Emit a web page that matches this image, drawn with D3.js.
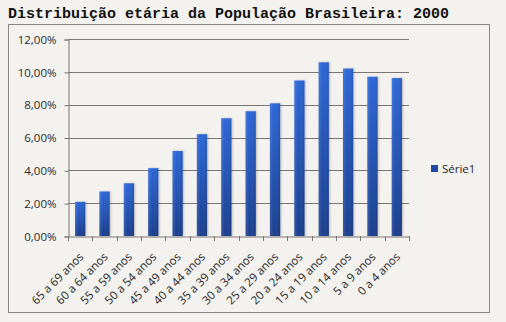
<!DOCTYPE html>
<html>
<head>
<meta charset="utf-8">
<script src="https://cdn.jsdelivr.net/npm/d3@7"></script>
<style>
  html, body { margin: 0; padding: 0; background: #f4f2ef; }
  svg { display: block; }
</style>
</head>
<body>
<svg id="chart" width="506" height="322"></svg>
<script>
// Faixas etárias (da mais velha para a mais nova)
const categories = [
  "65 a 69 anos", "60 a 64 anos", "55 a 59 anos", "50 a 54 anos",
  "45 a 49 anos", "40 a 44 anos", "35 a 39 anos", "30 a 34 anos",
  "25 a 29 anos", "20 a 24 anos", "15 a 19 anos", "10 a 14 anos",
  "5 a 9 anos", "0 a 4 anos"
];
// Participação de cada faixa na população (%)
const values = [2.08, 2.71, 3.21, 4.13, 5.18, 6.20, 7.17, 7.60, 8.08, 9.47, 10.58, 10.20, 9.70, 9.62];
const yTicks = [0, 2, 4, 6, 8, 10, 12];
const seriesName = "Série1";
const title = "Distribuição etária da População Brasileira: 2000";

const labelFont = "'Open Sans', 'Liberation Sans', sans-serif";
const svg = d3.select("#chart");

// Título
svg.append("text")
  .attr("x", 8).attr("y", 18)
  .attr("font-family", "'Liberation Mono', 'DejaVu Sans Mono', monospace")
  .attr("font-weight", "bold")
  .attr("font-size", 15)
  .attr("fill", "#111")
  .text(title);

// Moldura do gráfico
svg.append("rect")
  .attr("x", 8.5).attr("y", 24.5)
  .attr("width", 481).attr("height", 288)
  .attr("fill", "#f4f2ef")
  .attr("stroke", "#8a8684")
  .attr("stroke-width", 1);

const plot = { left: 68, right: 409, top: 39, bottom: 236 };

const x = d3.scaleBand()
  .domain(categories)
  .range([plot.left, plot.right])
  .paddingInner(0.58)
  .paddingOuter(0.29);

const y = d3.scaleLinear()
  .domain([0, 12])
  .range([plot.bottom, plot.top]);

const fmt = v => d3.format(".2f")(v).replace(".", ",") + "%";

// Gradiente das barras
const defs = svg.append("defs");
const grad = defs.append("linearGradient")
  .attr("id", "barGrad")
  .attr("x1", 0).attr("y1", 0).attr("x2", 0).attr("y2", 1);
grad.append("stop").attr("offset", "0%").attr("stop-color", "#2d67d8");
grad.append("stop").attr("offset", "100%").attr("stop-color", "#1a3f8e");

const hgrad = defs.append("linearGradient")
  .attr("id", "barShade")
  .attr("x1", 0).attr("y1", 0).attr("x2", 1).attr("y2", 0);
hgrad.append("stop").attr("offset", "0%").attr("stop-color", "#fff").attr("stop-opacity", 0.12);
hgrad.append("stop").attr("offset", "40%").attr("stop-color", "#fff").attr("stop-opacity", 0);
hgrad.append("stop").attr("offset", "100%").attr("stop-color", "#000").attr("stop-opacity", 0.12);

const shadow = defs.append("filter").attr("id", "shadow")
  .attr("x", "-50%").attr("y", "-10%").attr("width", "200%").attr("height", "120%");
shadow.append("feGaussianBlur").attr("in", "SourceAlpha").attr("stdDeviation", 1.2).attr("result", "b");
shadow.append("feOffset").attr("in", "b").attr("dx", 1).attr("dy", 0).attr("result", "o");
shadow.append("feComponentTransfer").attr("in", "o").attr("result", "s")
  .append("feFuncA").attr("type", "linear").attr("slope", 0.25);
const merge = shadow.append("feMerge");
merge.append("feMergeNode").attr("in", "s");
merge.append("feMergeNode").attr("in", "SourceGraphic");

// Linhas de grade horizontais
svg.append("g")
  .selectAll("line")
  .data(yTicks.filter(t => t > 0))
  .join("line")
  .attr("x1", plot.left).attr("x2", plot.right)
  .attr("y1", d => Math.round(y(d)) + 0.5).attr("y2", d => Math.round(y(d)) + 0.5)
  .attr("stroke", "#7a7674")
  .attr("stroke-width", 1);

// Eixo Y
const yAxis = d3.axisLeft(y)
  .tickValues(yTicks)
  .tickSize(4)
  .tickPadding(8)
  .tickFormat(fmt);
const gy = svg.append("g")
  .attr("transform", `translate(${plot.left + 0.5},0.5)`)
  .call(yAxis);
gy.select(".domain").attr("stroke", "#7a7674");
gy.selectAll(".tick line").attr("stroke", "#7a7674");
gy.selectAll(".tick text")
  .attr("font-family", labelFont)
  .attr("font-size", 11.5)
  .attr("fill", "#2a2a2a");

// Barras
svg.append("g")
  .selectAll("g.bar")
  .data(values)
  .join("g")
  .attr("class", "bar")
  .each(function (d, i) {
    const g = d3.select(this);
    const bx = x(categories[i]);
    const by = y(d);
    const h = y(0) - y(d);
    g.append("rect")
      .attr("x", bx).attr("y", by)
      .attr("width", x.bandwidth()).attr("height", h)
      .attr("fill", "url(#barGrad)")
      .attr("filter", "url(#shadow)");
    g.append("rect")
      .attr("x", bx).attr("y", by)
      .attr("width", x.bandwidth()).attr("height", h)
      .attr("fill", "url(#barShade)");
  });

// Eixo X
const xAxis = d3.axisBottom(x).tickSize(0).tickPadding(0);
const gx = svg.append("g")
  .attr("transform", `translate(0,${plot.bottom + 0.5})`)
  .call(xAxis);
gx.select(".domain").attr("stroke", "#7a7674");
gx.selectAll(".tick text")
  .attr("font-family", labelFont)
  .attr("font-size", 11.5)
  .attr("fill", "#1e1e1e")
  .attr("text-anchor", "end")
  .attr("dy", 0)
  .attr("transform", "translate(4,21) rotate(-45)");

// Marcas de divisão entre categorias
const boundaries = d3.range(categories.length + 1)
  .map(i => plot.left + i * (plot.right - plot.left) / categories.length);
svg.append("g")
  .selectAll("line")
  .data(boundaries)
  .join("line")
  .attr("x1", d => Math.round(d) + 0.5).attr("x2", d => Math.round(d) + 0.5)
  .attr("y1", plot.bottom).attr("y2", plot.bottom + 5)
  .attr("stroke", "#7a7674");

// Legenda
const leg = svg.append("g").attr("transform", "translate(431,165)");
leg.append("rect")
  .attr("width", 7).attr("height", 7)
  .attr("fill", "#1f4aa6");
leg.append("text")
  .attr("x", 11).attr("y", 8)
  .attr("font-family", labelFont)
  .attr("font-size", 11.5)
  .attr("fill", "#1e1e1e")
  .text(seriesName);
</script>
</body>
</html>
